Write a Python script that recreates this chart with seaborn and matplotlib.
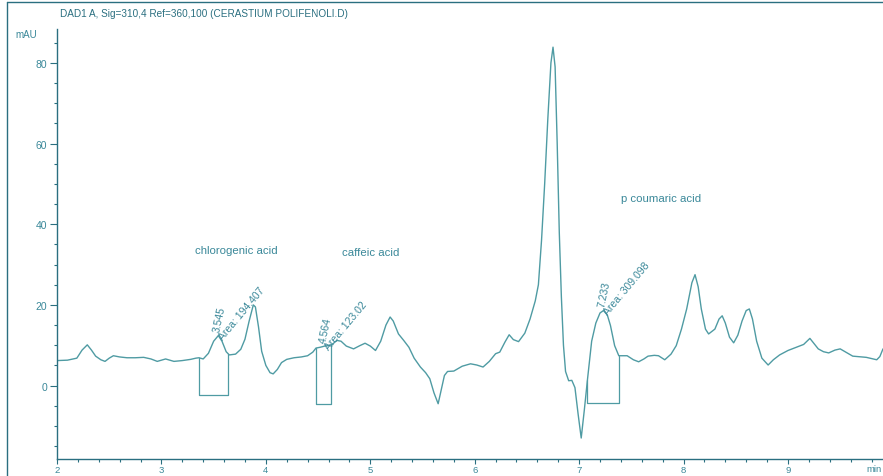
import numpy as np
import pandas as pd
import matplotlib
matplotlib.use("Agg")
import matplotlib.pyplot as plt
from matplotlib.lines import Line2D
from matplotlib.ticker import MultipleLocator
import seaborn as sns

# Chromatogram trace: retention time (min) and absorbance (mAU)
time_min = [
    2.00, 2.10, 2.19, 2.24, 2.29, 2.33, 2.37, 2.42, 2.46, 2.50, 2.54, 2.60, 2.67,
    2.75, 2.83, 2.90, 2.96, 3.00, 3.04, 3.08, 3.12, 3.20, 3.28, 3.33, 3.36, 3.40,
    3.45, 3.50, 3.545, 3.58, 3.62, 3.65, 3.71, 3.76, 3.80, 3.84, 3.88, 3.90, 3.93,
    3.96, 4.00, 4.04, 4.07, 4.11, 4.15, 4.20, 4.27, 4.34, 4.40, 4.45, 4.48, 4.52,
    4.564, 4.60, 4.64, 4.68, 4.72, 4.77, 4.84, 4.90, 4.95, 5.00, 5.05, 5.10, 5.15,
    5.19, 5.22, 5.27, 5.32, 5.37, 5.42, 5.48, 5.53, 5.57, 5.61, 5.65, 5.68, 5.71,
    5.74, 5.80, 5.88, 5.96, 6.02, 6.08, 6.14, 6.20, 6.24, 6.29, 6.33, 6.37, 6.42,
    6.48, 6.53, 6.58, 6.61, 6.64, 6.67, 6.70, 6.73, 6.75, 6.77, 6.79, 6.81, 6.83,
    6.85, 6.87, 6.90, 6.93, 6.96, 6.99, 7.02, 7.05, 7.08, 7.12, 7.16, 7.20, 7.233,
    7.27, 7.30, 7.34, 7.38, 7.46, 7.52, 7.57, 7.62, 7.66, 7.72, 7.76, 7.82, 7.88,
    7.93, 7.98, 8.03, 8.08, 8.11, 8.14, 8.17, 8.21, 8.24, 8.30, 8.34, 8.37, 8.40,
    8.44, 8.48, 8.52, 8.56, 8.60, 8.63, 8.66, 8.70, 8.75, 8.81, 8.86, 8.92, 9.00,
    9.08, 9.15, 9.21, 9.25, 9.29, 9.34, 9.39, 9.45, 9.50, 9.56, 9.62, 9.70, 9.75,
    9.80, 9.85, 9.88, 9.91,
]
absorbance_mau = [
    6.2, 6.3, 6.8, 8.8, 10.1, 8.8, 7.3, 6.4, 6.0, 6.8, 7.4, 7.1, 6.9,
    6.9, 7.0, 6.6, 6.0, 6.3, 6.6, 6.3, 6.0, 6.2, 6.5, 6.8, 6.9, 6.6,
    8.0, 11.0, 12.4, 11.0, 8.4, 7.6, 7.8, 9.0, 11.5, 16.0, 20.0, 19.5, 14.5,
    8.5, 5.0, 3.2, 2.9, 4.0, 5.7, 6.5, 6.9, 7.1, 7.4, 8.3, 9.3, 9.5,
    9.8, 9.9, 10.3, 11.2, 11.0, 9.8, 9.1, 9.9, 10.5, 9.8, 8.7, 11.0, 15.0,
    17.0, 16.0, 12.8, 11.2, 9.5, 6.8, 4.6, 3.2, 1.7, -1.8, -4.5, -1.0, 2.5,
    3.5, 3.6, 4.8, 5.4, 5.1, 4.6, 6.0, 7.9, 8.3, 10.8, 12.6, 11.4, 10.9,
    13.0, 16.5, 21.0, 25.0, 36.0, 50.0, 66.0, 80.0, 83.9, 79.0, 60.0, 38.0, 22.0,
    10.0, 3.5, 1.2, 1.3, -0.5, -7.0, -13.0, -6.0, 1.5, 11.0, 15.5, 18.0, 18.6,
    17.5, 14.9, 9.9, 7.4, 7.4, 6.4, 5.9, 6.6, 7.3, 7.5, 7.4, 6.4, 7.8,
    9.9, 14.0, 19.0, 25.5, 27.5, 24.5, 19.0, 14.0, 12.8, 14.0, 16.5, 17.3, 15.5,
    12.0, 10.6, 12.5, 16.0, 18.6, 19.0, 16.5, 11.0, 6.8, 5.1, 6.4, 7.6, 8.7,
    9.5, 10.2, 11.7, 10.4, 9.1, 8.4, 8.1, 8.8, 9.1, 8.2, 7.3, 7.1, 7.0,
    6.7, 6.4, 7.2, 9.1,
]

# Integrated peaks
peak_rt = ["3.545", "4.564", "7.233"]
peak_area = ["194.407", "123.02", "309.098"]
peak_start = [3.36, 4.48, 7.08]
peak_end = [3.64, 4.62, 7.38]
peak_baseline = [-2.3, -4.5, -4.3]
peak_top = [12.4, 9.8, 18.6]

# Compound names
compound_names = ["chlorogenic acid", "caffeic acid", "p coumaric acid"]
compound_x = [3.32, 4.73, 7.40]
compound_y = [33.5, 33.0, 46.5]

x_ticks = [2, 3, 4, 5, 6, 7, 8, 9]
y_ticks = [0, 20, 40, 60, 80]

title_text = "DAD1 A, Sig=310,4 Ref=360,100 (CERASTIUM POLIFENOLI.D)"

curve_col = "#4f9ba3"
axis_col = "#2a6f80"
text_col = "#3a8899"

sns.set_theme(style="white")
plt.rcParams["font.family"] = ["Liberation Sans Narrow", "Liberation Sans", "DejaVu Sans"]

fig = plt.figure(figsize=(8.83, 4.77), dpi=100)
ax = fig.add_axes([57 / 883, 17 / 477, 1 - 57 / 883, (460 - 30) / 477])

trace = pd.DataFrame({"time": time_min, "mAU": absorbance_mau})
sns.lineplot(data=trace, x="time", y="mAU", ax=ax, color=curve_col,
             linewidth=1.0, estimator=None, sort=False)

# Integration baselines drawn as open boxes
for x0, x1, base in zip(peak_start, peak_end, peak_baseline):
    y0 = np.interp(x0, time_min, absorbance_mau)
    y1 = np.interp(x1, time_min, absorbance_mau)
    ax.plot([x0, x0, x1, x1], [y0, base, base, y1], color=curve_col, linewidth=0.9)

# Retention time and area labels
for rt, area, top in zip(peak_rt, peak_area, peak_top):
    t = float(rt)
    ax.text(t - 0.02, top + 1.0, rt, rotation=78, rotation_mode="anchor",
            ha="left", va="center", fontsize=7.5, color=text_col)
    ax.text(t + 0.02, top - 0.5, f"Area: {area}", rotation=50,
            rotation_mode="anchor", ha="left", va="center",
            fontsize=7.5, color=text_col)

for name, cx, cy in zip(compound_names, compound_x, compound_y):
    ax.text(cx, cy, name, ha="left", va="center", fontsize=8.2, color=text_col)

ax.set_xlim(2, 9.91)
ax.set_ylim(-18.2, 88.4)
ax.set_xticks(x_ticks)
ax.set_yticks(y_ticks)
ax.xaxis.set_minor_locator(MultipleLocator(0.2))
ax.yaxis.set_minor_locator(MultipleLocator(5))
ax.set_xlabel("")
ax.set_ylabel("")

for side in ["top", "right"]:
    ax.spines[side].set_visible(False)
for side in ["left", "bottom"]:
    ax.spines[side].set_color(axis_col)
    ax.spines[side].set_linewidth(1.0)

ax.tick_params(axis="y", which="major", direction="out", length=5, width=0.8,
               color=axis_col, labelcolor=text_col, labelsize=7.5, pad=2, left=True)
ax.tick_params(axis="x", which="major", direction="out", length=3.5, width=0.8,
               color=axis_col, labelcolor=text_col, labelsize=6.8, pad=0.5,
               bottom=True)
ax.tick_params(axis="both", which="minor", direction="out", length=2.2, width=0.8,
               color=axis_col, bottom=True, left=True)

ax.text(-0.037, 1.0, "mAU", transform=ax.transAxes, ha="center", va="top",
        fontsize=7, color=text_col)
ax.text(0.998, -0.012, "min", transform=ax.transAxes, ha="right",
        va="top", fontsize=6.8, color=text_col, clip_on=False)

fig.text(60 / 883, 1 - 14 / 477, title_text, ha="left", va="center",
         fontsize=7.2, color=axis_col)

# Outer frame lines
fig.add_artist(Line2D([7 / 883, 7 / 883], [0, 1 - 3 / 477], color=axis_col, linewidth=1.0))
fig.add_artist(Line2D([7 / 883, 1], [1 - 3 / 477, 1 - 3 / 477], color=axis_col, linewidth=1.0))

fig.savefig("out.png", dpi=100, facecolor="white")
